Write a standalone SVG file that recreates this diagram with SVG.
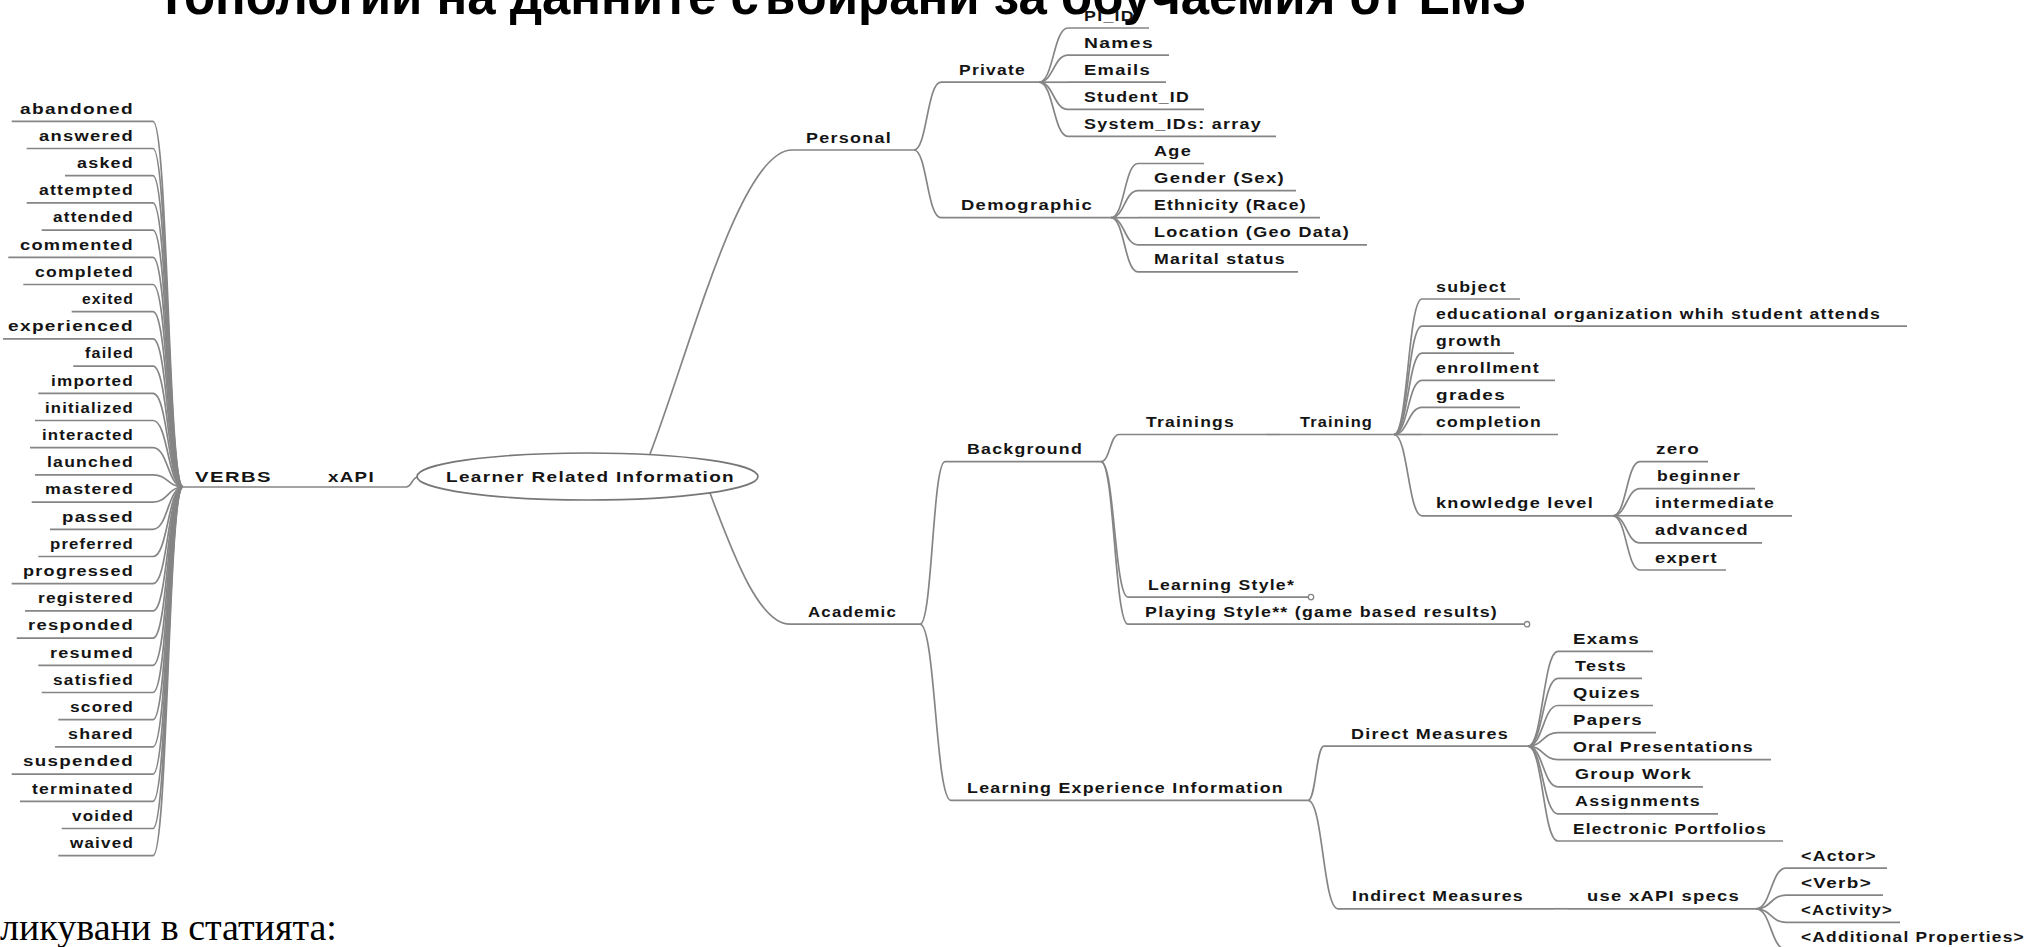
<svg xmlns="http://www.w3.org/2000/svg" width="2038" height="947" viewBox="0 0 2038 947">
<style>
.t{font-family:"Liberation Sans",Arial,sans-serif;font-size:14px;font-weight:bold;letter-spacing:1px;fill:#141414}
.u{fill:none;stroke:#858585;stroke-width:1.7}
.e{fill:none;stroke:#858585;stroke-width:1.7}
.title{font-family:"Liberation Sans",Arial,sans-serif;font-size:54px;font-weight:bold;fill:#000}
.cap{font-family:"Liberation Serif","Times New Roman",serif;font-size:38px;fill:#000}
</style>
<rect width="2038" height="947" fill="#fff"/>
<text class="title" x="156" y="14" textLength="1370" lengthAdjust="spacingAndGlyphs">Топологии на данните събирани за обучаемия от LMS</text>
<text class="cap" x="0" y="940">ликувани в статията:</text>

<g id="connectors">
<path class="e" d="M183 487C168 487 168 121.3 153 121.3"/>
<path class="e" d="M183 487C168 487 168 148.5 153 148.5"/>
<path class="e" d="M183 487C168 487 168 175.7 153 175.7"/>
<path class="e" d="M183 487C168 487 168 202.9 153 202.9"/>
<path class="e" d="M183 487C168 487 168 230.1 153 230.1"/>
<path class="e" d="M183 487C168 487 168 257.3 153 257.3"/>
<path class="e" d="M183 487C168 487 168 284.5 153 284.5"/>
<path class="e" d="M183 487C168 487 168 311.7 153 311.7"/>
<path class="e" d="M183 487C168 487 168 338.9 153 338.9"/>
<path class="e" d="M183 487C168 487 168 366.1 153 366.1"/>
<path class="e" d="M183 487C168 487 168 393.3 153 393.3"/>
<path class="e" d="M183 487C168 487 168 420.5 153 420.5"/>
<path class="e" d="M183 487C168 487 168 447.7 153 447.7"/>
<path class="e" d="M183 487C168 487 168 474.9 153 474.9"/>
<path class="e" d="M183 487C168 487 168 502.1 153 502.1"/>
<path class="e" d="M183 487C168 487 168 529.3 153 529.3"/>
<path class="e" d="M183 487C168 487 168 556.5 153 556.5"/>
<path class="e" d="M183 487C168 487 168 583.7 153 583.7"/>
<path class="e" d="M183 487C168 487 168 610.9 153 610.9"/>
<path class="e" d="M183 487C168 487 168 638.1 153 638.1"/>
<path class="e" d="M183 487C168 487 168 665.3 153 665.3"/>
<path class="e" d="M183 487C168 487 168 692.5 153 692.5"/>
<path class="e" d="M183 487C168 487 168 719.7 153 719.7"/>
<path class="e" d="M183 487C168 487 168 746.9 153 746.9"/>
<path class="e" d="M183 487C168 487 168 774.1 153 774.1"/>
<path class="e" d="M183 487C168 487 168 801.3 153 801.3"/>
<path class="e" d="M183 487C168 487 168 828.5 153 828.5"/>
<path class="e" d="M183 487C168 487 168 855.7 153 855.7"/>
<path class="e" d="M300 487H302"/>
<path class="e" d="M406 487C412 487 412 477 418 477"/>
<path class="e" d="M650 454C690 350 740 150 792 150"/>
<path class="e" d="M710 493C735 560 760 624.2 790 624.2"/>
<path class="e" d="M914 150C927 150 927 82.2 941 82.2"/>
<path class="e" d="M914 150C927 150 927 217.7 941 217.7"/>
<path class="e" d="M1039 82.2C1053.5 82.2 1053.5 28 1068 28"/>
<path class="e" d="M1039 82.2C1053.5 82.2 1053.5 55.1 1068 55.1"/>
<path class="e" d="M1039 82.2H1068"/>
<path class="e" d="M1039 82.2C1053.5 82.2 1053.5 109.3 1068 109.3"/>
<path class="e" d="M1039 82.2C1053.5 82.2 1053.5 136.4 1068 136.4"/>
<path class="e" d="M1111 217.7C1124.5 217.7 1124.5 163.5 1138 163.5"/>
<path class="e" d="M1111 217.7C1124.5 217.7 1124.5 190.6 1138 190.6"/>
<path class="e" d="M1111 217.7H1138"/>
<path class="e" d="M1111 217.7C1124.5 217.7 1124.5 244.8 1138 244.8"/>
<path class="e" d="M1111 217.7C1124.5 217.7 1124.5 271.9 1138 271.9"/>
<path class="e" d="M920 624.2C932.5 624.2 932.5 461.6 945 461.6"/>
<path class="e" d="M920 624.2C935.5 624.2 935.5 800.4 951 800.4"/>
<path class="e" d="M1101 461.6C1110 461.6 1110 434.5 1119 434.5"/>
<path class="e" d="M1101 461.6C1114.5 461.6 1114.5 597.1 1128 597.1"/>
<path class="e" d="M1101 461.6C1114.5 461.6 1114.5 624.2 1128 624.2"/>
<path class="e" d="M1266 434.5H1280"/>
<path class="e" d="M1394 434.5C1408 434.5 1408 299 1422 299"/>
<path class="e" d="M1394 434.5C1408 434.5 1408 326.1 1422 326.1"/>
<path class="e" d="M1394 434.5C1408 434.5 1408 353.2 1422 353.2"/>
<path class="e" d="M1394 434.5C1408 434.5 1408 380.3 1422 380.3"/>
<path class="e" d="M1394 434.5C1408 434.5 1408 407.4 1422 407.4"/>
<path class="e" d="M1394 434.5H1422"/>
<path class="e" d="M1394 434.5C1408 434.5 1408 515.8 1422 515.8"/>
<path class="e" d="M1613 515.8C1626.5 515.8 1626.5 461.6 1640 461.6"/>
<path class="e" d="M1613 515.8C1626.5 515.8 1626.5 488.7 1640 488.7"/>
<path class="e" d="M1613 515.8H1640"/>
<path class="e" d="M1613 515.8C1626.5 515.8 1626.5 542.9 1640 542.9"/>
<path class="e" d="M1613 515.8C1626.5 515.8 1626.5 570 1640 570"/>
<path class="e" d="M1308 800.4C1316 800.4 1316 746.2 1324 746.2"/>
<path class="e" d="M1308 800.4C1323 800.4 1323 908.8 1338 908.8"/>
<path class="e" d="M1528 746.2C1543 746.2 1543 651.3 1558 651.3"/>
<path class="e" d="M1528 746.2C1543 746.2 1543 678.4 1558 678.4"/>
<path class="e" d="M1528 746.2C1543 746.2 1543 705.5 1558 705.5"/>
<path class="e" d="M1528 746.2C1543 746.2 1543 732.6 1558 732.6"/>
<path class="e" d="M1528 746.2C1543 746.2 1543 759.7 1558 759.7"/>
<path class="e" d="M1528 746.2C1543 746.2 1543 786.8 1558 786.8"/>
<path class="e" d="M1528 746.2C1543 746.2 1543 813.9 1558 813.9"/>
<path class="e" d="M1528 746.2C1543 746.2 1543 841 1558 841"/>
<path class="e" d="M1554 908.8H1568"/>
<path class="e" d="M1756 908.8C1771 908.8 1771 868.1 1786 868.1"/>
<path class="e" d="M1756 908.8C1771 908.8 1771 895.2 1786 895.2"/>
<path class="e" d="M1756 908.8C1771 908.8 1771 922.3 1786 922.3"/>
<path class="e" d="M1756 908.8C1771 908.8 1771 949.4 1786 949.4"/>
</g>

<g id="n-abandoned"><text class="t" x="20" y="113.5" textLength="114" lengthAdjust="spacingAndGlyphs">abandoned</text><path class="u" d="M11.7 121.3H153"/></g>
<g id="n-answered"><text class="t" x="39" y="140.7" textLength="95" lengthAdjust="spacingAndGlyphs">answered</text><path class="u" d="M26.7 148.5H153"/></g>
<g id="n-asked"><text class="t" x="77" y="167.9" textLength="57" lengthAdjust="spacingAndGlyphs">asked</text><path class="u" d="M65 175.7H153"/></g>
<g id="n-attempted"><text class="t" x="39" y="195.1" textLength="95" lengthAdjust="spacingAndGlyphs">attempted</text><path class="u" d="M26.7 202.9H153"/></g>
<g id="n-attended"><text class="t" x="53" y="222.3" textLength="81" lengthAdjust="spacingAndGlyphs">attended</text><path class="u" d="M41.7 230.1H153"/></g>
<g id="n-commented"><text class="t" x="20" y="249.5" textLength="114" lengthAdjust="spacingAndGlyphs">commented</text><path class="u" d="M8.3 257.3H153"/></g>
<g id="n-completed"><text class="t" x="35" y="276.7" textLength="99" lengthAdjust="spacingAndGlyphs">completed</text><path class="u" d="M23.3 284.5H153"/></g>
<g id="n-exited"><text class="t" x="82" y="303.9" textLength="52" lengthAdjust="spacingAndGlyphs">exited</text><path class="u" d="M71.7 311.7H153"/></g>
<g id="n-experienced"><text class="t" x="8" y="331.1" textLength="126" lengthAdjust="spacingAndGlyphs">experienced</text><path class="u" d="M3 338.9H153"/></g>
<g id="n-failed"><text class="t" x="85" y="358.3" textLength="49" lengthAdjust="spacingAndGlyphs">failed</text><path class="u" d="M73.3 366.1H153"/></g>
<g id="n-imported"><text class="t" x="51" y="385.5" textLength="83" lengthAdjust="spacingAndGlyphs">imported</text><path class="u" d="M38.3 393.3H153"/></g>
<g id="n-initialized"><text class="t" x="45" y="412.7" textLength="89" lengthAdjust="spacingAndGlyphs">initialized</text><path class="u" d="M35 420.5H153"/></g>
<g id="n-interacted"><text class="t" x="42" y="439.9" textLength="92" lengthAdjust="spacingAndGlyphs">interacted</text><path class="u" d="M30 447.7H153"/></g>
<g id="n-launched"><text class="t" x="47" y="467.1" textLength="87" lengthAdjust="spacingAndGlyphs">launched</text><path class="u" d="M35 474.9H153"/></g>
<g id="n-mastered"><text class="t" x="45" y="494.3" textLength="89" lengthAdjust="spacingAndGlyphs">mastered</text><path class="u" d="M31.7 502.1H153"/></g>
<g id="n-passed"><text class="t" x="62" y="521.5" textLength="72" lengthAdjust="spacingAndGlyphs">passed</text><path class="u" d="M50 529.3H153"/></g>
<g id="n-preferred"><text class="t" x="50" y="548.7" textLength="84" lengthAdjust="spacingAndGlyphs">preferred</text><path class="u" d="M38.3 556.5H153"/></g>
<g id="n-progressed"><text class="t" x="23" y="575.9" textLength="111" lengthAdjust="spacingAndGlyphs">progressed</text><path class="u" d="M11.7 583.7H153"/></g>
<g id="n-registered"><text class="t" x="38" y="603.1" textLength="96" lengthAdjust="spacingAndGlyphs">registered</text><path class="u" d="M25 610.9H153"/></g>
<g id="n-responded"><text class="t" x="28" y="630.3" textLength="106" lengthAdjust="spacingAndGlyphs">responded</text><path class="u" d="M16.7 638.1H153"/></g>
<g id="n-resumed"><text class="t" x="50" y="657.5" textLength="84" lengthAdjust="spacingAndGlyphs">resumed</text><path class="u" d="M38.3 665.3H153"/></g>
<g id="n-satisfied"><text class="t" x="53" y="684.7" textLength="81" lengthAdjust="spacingAndGlyphs">satisfied</text><path class="u" d="M41.7 692.5H153"/></g>
<g id="n-scored"><text class="t" x="70" y="711.9" textLength="64" lengthAdjust="spacingAndGlyphs">scored</text><path class="u" d="M58.3 719.7H153"/></g>
<g id="n-shared"><text class="t" x="68" y="739.1" textLength="66" lengthAdjust="spacingAndGlyphs">shared</text><path class="u" d="M55 746.9H153"/></g>
<g id="n-suspended"><text class="t" x="23" y="766.3" textLength="111" lengthAdjust="spacingAndGlyphs">suspended</text><path class="u" d="M11.7 774.1H153"/></g>
<g id="n-terminated"><text class="t" x="32" y="793.5" textLength="102" lengthAdjust="spacingAndGlyphs">terminated</text><path class="u" d="M20 801.3H153"/></g>
<g id="n-voided"><text class="t" x="72" y="820.7" textLength="62" lengthAdjust="spacingAndGlyphs">voided</text><path class="u" d="M61.7 828.5H153"/></g>
<g id="n-waived"><text class="t" x="70" y="847.9" textLength="64" lengthAdjust="spacingAndGlyphs">waived</text><path class="u" d="M58.3 855.7H153"/></g>

<g id="n-verbs"><text class="t" x="195" y="481.5" textLength="77" lengthAdjust="spacingAndGlyphs">VERBS</text><path class="u" d="M183 487H300"/></g>
<g id="n-xapi"><text class="t" x="328" y="481.5" textLength="47" lengthAdjust="spacingAndGlyphs">xAPI</text><path class="u" d="M302 487H406"/></g>
<g id="n-root"><ellipse cx="587.5" cy="476.5" rx="170.5" ry="23.5" fill="#fff" stroke="#777" stroke-width="1.7"/><text class="t" x="446" y="481.5" textLength="289" lengthAdjust="spacingAndGlyphs">Learner Related Information</text></g>

<g id="n-personal"><text class="t" x="806" y="142.5" textLength="86" lengthAdjust="spacingAndGlyphs">Personal</text><path class="u" d="M792 150H914"/></g>
<g id="n-private"><text class="t" x="959" y="74.7" textLength="67" lengthAdjust="spacingAndGlyphs">Private</text><path class="u" d="M941 82.2H1039"/></g>
<g id="n-pi-id"><text class="t" x="1084" y="20.5" textLength="51" lengthAdjust="spacingAndGlyphs">PI_ID</text><path class="u" d="M1068 28H1149"/></g>
<g id="n-names"><text class="t" x="1084" y="47.6" textLength="70" lengthAdjust="spacingAndGlyphs">Names</text><path class="u" d="M1068 55.1H1169"/></g>
<g id="n-emails"><text class="t" x="1084" y="74.7" textLength="67" lengthAdjust="spacingAndGlyphs">Emails</text><path class="u" d="M1068 82.2H1166"/></g>
<g id="n-student-id"><text class="t" x="1084" y="101.8" textLength="106" lengthAdjust="spacingAndGlyphs">Student_ID</text><path class="u" d="M1068 109.3H1204"/></g>
<g id="n-system-ids"><text class="t" x="1084" y="128.9" textLength="178" lengthAdjust="spacingAndGlyphs">System_IDs: array</text><path class="u" d="M1068 136.4H1276"/></g>
<g id="n-demographic"><text class="t" x="961" y="210.2" textLength="132" lengthAdjust="spacingAndGlyphs">Demographic</text><path class="u" d="M941 217.7H1111"/></g>
<g id="n-age"><text class="t" x="1154" y="156" textLength="38" lengthAdjust="spacingAndGlyphs">Age</text><path class="u" d="M1138 163.5H1204"/></g>
<g id="n-gender"><text class="t" x="1154" y="183.1" textLength="131" lengthAdjust="spacingAndGlyphs">Gender (Sex)</text><path class="u" d="M1138 190.6H1296"/></g>
<g id="n-ethnicity"><text class="t" x="1154" y="210.2" textLength="153" lengthAdjust="spacingAndGlyphs">Ethnicity (Race)</text><path class="u" d="M1138 217.7H1320"/></g>
<g id="n-location"><text class="t" x="1154" y="237.3" textLength="196" lengthAdjust="spacingAndGlyphs">Location (Geo Data)</text><path class="u" d="M1138 244.8H1367"/></g>
<g id="n-marital"><text class="t" x="1154" y="264.4" textLength="132" lengthAdjust="spacingAndGlyphs">Marital status</text><path class="u" d="M1138 271.9H1298"/></g>

<g id="n-academic"><text class="t" x="808" y="616.7" textLength="89" lengthAdjust="spacingAndGlyphs">Academic</text><path class="u" d="M790 624.2H920"/></g>
<g id="n-background"><text class="t" x="967" y="454.1" textLength="116" lengthAdjust="spacingAndGlyphs">Background</text><path class="u" d="M945 461.6H1101"/></g>
<g id="n-trainings"><text class="t" x="1146" y="427" textLength="89" lengthAdjust="spacingAndGlyphs">Trainings</text><path class="u" d="M1119 434.5H1266"/></g>
<g id="n-training"><text class="t" x="1300" y="427" textLength="73" lengthAdjust="spacingAndGlyphs">Training</text><path class="u" d="M1280 434.5H1394"/></g>
<g id="n-subject"><text class="t" x="1436" y="291.5" textLength="71" lengthAdjust="spacingAndGlyphs">subject</text><path class="u" d="M1422 299H1520"/></g>
<g id="n-educational"><text class="t" x="1436" y="318.6" textLength="445" lengthAdjust="spacingAndGlyphs">educational organization whih student attends</text><path class="u" d="M1422 326.1H1907"/></g>
<g id="n-growth"><text class="t" x="1436" y="345.7" textLength="66" lengthAdjust="spacingAndGlyphs">growth</text><path class="u" d="M1422 353.2H1514"/></g>
<g id="n-enrollment"><text class="t" x="1436" y="372.8" textLength="104" lengthAdjust="spacingAndGlyphs">enrollment</text><path class="u" d="M1422 380.3H1555"/></g>
<g id="n-grades"><text class="t" x="1436" y="399.9" textLength="70" lengthAdjust="spacingAndGlyphs">grades</text><path class="u" d="M1422 407.4H1520"/></g>
<g id="n-completion"><text class="t" x="1436" y="427" textLength="106" lengthAdjust="spacingAndGlyphs">completion</text><path class="u" d="M1422 434.5H1558"/></g>
<g id="n-knowledge"><text class="t" x="1436" y="508.3" textLength="158" lengthAdjust="spacingAndGlyphs">knowledge level</text><path class="u" d="M1422 515.8H1613"/></g>
<g id="n-zero"><text class="t" x="1656" y="454.1" textLength="44" lengthAdjust="spacingAndGlyphs">zero</text><path class="u" d="M1640 461.6H1708"/></g>
<g id="n-beginner"><text class="t" x="1657" y="481.2" textLength="84" lengthAdjust="spacingAndGlyphs">beginner</text><path class="u" d="M1640 488.7H1755"/></g>
<g id="n-intermediate"><text class="t" x="1655" y="508.3" textLength="120" lengthAdjust="spacingAndGlyphs">intermediate</text><path class="u" d="M1640 515.8H1792"/></g>
<g id="n-advanced"><text class="t" x="1655" y="535.4" textLength="94" lengthAdjust="spacingAndGlyphs">advanced</text><path class="u" d="M1640 542.9H1762"/></g>
<g id="n-expert"><text class="t" x="1655" y="562.5" textLength="63" lengthAdjust="spacingAndGlyphs">expert</text><path class="u" d="M1640 570H1726"/></g>
<g id="n-learning-style"><text class="t" x="1148" y="589.6" textLength="147" lengthAdjust="spacingAndGlyphs">Learning Style*</text><path class="u" d="M1128 597.1H1308"/><circle cx="1311" cy="597.1" r="2.7" fill="#fff" stroke="#858585" stroke-width="1.3"/></g>
<g id="n-playing-style"><text class="t" x="1145" y="616.7" textLength="353" lengthAdjust="spacingAndGlyphs">Playing Style** (game based results)</text><path class="u" d="M1128 624.2H1524"/><circle cx="1527" cy="624.2" r="2.7" fill="#fff" stroke="#858585" stroke-width="1.3"/></g>

<g id="n-lei"><text class="t" x="967" y="792.9" textLength="317" lengthAdjust="spacingAndGlyphs">Learning Experience Information</text><path class="u" d="M951 800.4H1308"/></g>
<g id="n-direct"><text class="t" x="1351" y="738.7" textLength="158" lengthAdjust="spacingAndGlyphs">Direct Measures</text><path class="u" d="M1324 746.2H1528"/></g>
<g id="n-exams"><text class="t" x="1573" y="643.8" textLength="67" lengthAdjust="spacingAndGlyphs">Exams</text><path class="u" d="M1558 651.3H1653"/></g>
<g id="n-tests"><text class="t" x="1575" y="670.9" textLength="52" lengthAdjust="spacingAndGlyphs">Tests</text><path class="u" d="M1558 678.4H1642"/></g>
<g id="n-quizes"><text class="t" x="1573" y="698" textLength="68" lengthAdjust="spacingAndGlyphs">Quizes</text><path class="u" d="M1558 705.5H1653"/></g>
<g id="n-papers"><text class="t" x="1573" y="725.1" textLength="70" lengthAdjust="spacingAndGlyphs">Papers</text><path class="u" d="M1558 732.6H1656"/></g>
<g id="n-oral"><text class="t" x="1573" y="752.2" textLength="181" lengthAdjust="spacingAndGlyphs">Oral Presentations</text><path class="u" d="M1558 759.7H1771"/></g>
<g id="n-group"><text class="t" x="1575" y="779.3" textLength="117" lengthAdjust="spacingAndGlyphs">Group Work</text><path class="u" d="M1558 786.8H1703"/></g>
<g id="n-assignments"><text class="t" x="1575" y="806.4" textLength="126" lengthAdjust="spacingAndGlyphs">Assignments</text><path class="u" d="M1558 813.9H1718"/></g>
<g id="n-electronic"><text class="t" x="1573" y="833.5" textLength="194" lengthAdjust="spacingAndGlyphs">Electronic Portfolios</text><path class="u" d="M1558 841H1783"/></g>
<g id="n-indirect"><text class="t" x="1352" y="901.3" textLength="172" lengthAdjust="spacingAndGlyphs">Indirect Measures</text><path class="u" d="M1338 908.8H1554"/></g>
<g id="n-use-xapi"><text class="t" x="1587" y="901.3" textLength="153" lengthAdjust="spacingAndGlyphs">use xAPI specs</text><path class="u" d="M1568 908.8H1756"/></g>
<g id="n-actor"><text class="t" x="1801" y="860.6" textLength="76" lengthAdjust="spacingAndGlyphs">&lt;Actor&gt;</text><path class="u" d="M1786 868.1H1887"/></g>
<g id="n-verb"><text class="t" x="1801" y="887.7" textLength="71" lengthAdjust="spacingAndGlyphs">&lt;Verb&gt;</text><path class="u" d="M1786 895.2H1883"/></g>
<g id="n-activity"><text class="t" x="1801" y="914.8" textLength="92" lengthAdjust="spacingAndGlyphs">&lt;Activity&gt;</text><path class="u" d="M1786 922.3H1900"/></g>
<g id="n-additional"><text class="t" x="1801" y="941.9" textLength="224" lengthAdjust="spacingAndGlyphs">&lt;Additional Properties&gt;</text><path class="u" d="M1786 949.4H2038"/></g>
</svg>
